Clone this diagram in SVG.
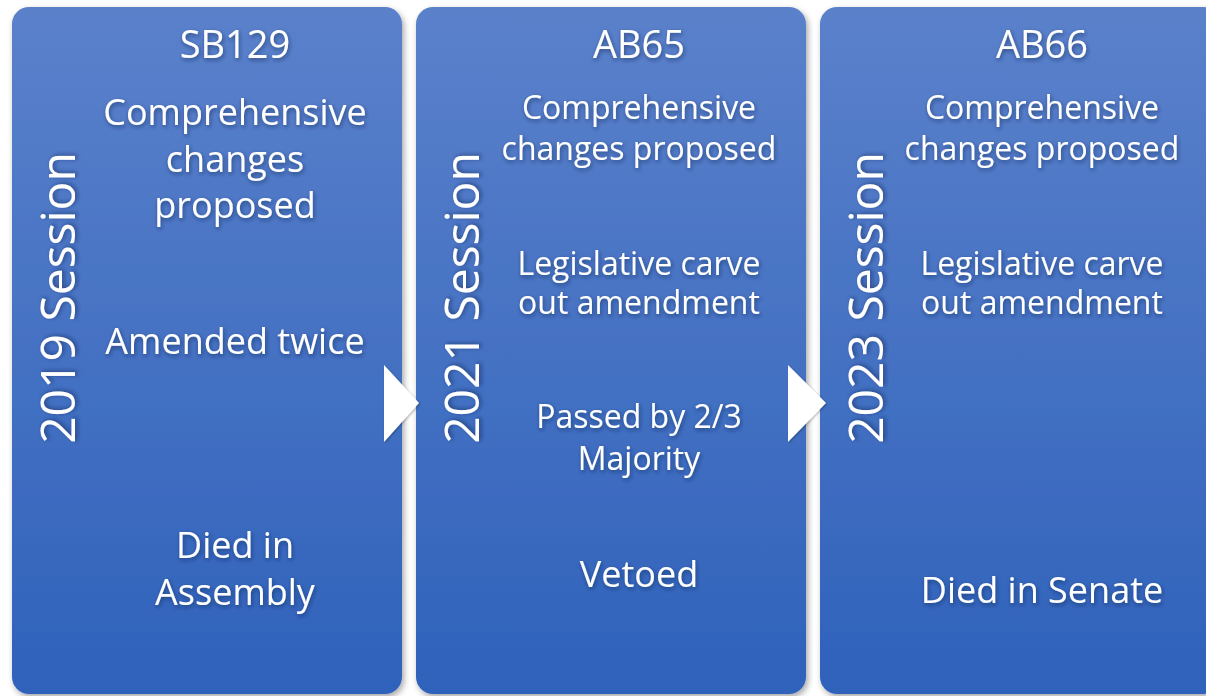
<svg xmlns="http://www.w3.org/2000/svg" width="1206" height="696" viewBox="0 0 1206 696">
  <defs>
    <linearGradient id="panelGrad" x1="0" y1="0" x2="0" y2="1">
      <stop offset="0" stop-color="#5b81cb"/>
      <stop offset="1" stop-color="#2f62bb"/>
    </linearGradient>
    <filter id="boxShadow" x="-5%" y="-5%" width="110%" height="110%">
      <feDropShadow dx="2" dy="3" stdDeviation="3" flood-color="#000" flood-opacity="0.35"/>
    </filter>
    <filter id="textShadow" x="-10%" y="-20%" width="120%" height="150%">
      <feDropShadow dx="1" dy="2" stdDeviation="2" flood-color="#0a1f4a" flood-opacity="0.55"/>
    </filter>
    <filter id="arrowShadow" x="-30%" y="-30%" width="160%" height="160%">
      <feDropShadow dx="1" dy="1" stdDeviation="1" flood-color="#000" flood-opacity="0.3"/>
    </filter>
  </defs>
  <style>
    .panel { fill: url(#panelGrad); filter: url(#boxShadow); }
    text { font-family: "Open Sans", "Noto Sans", "DejaVu Sans", sans-serif; fill: #ffffff; text-anchor: middle; filter: url(#textShadow); }
    .title { font-size: 38px; }
    .big { font-size: 36px; }
    .med { font-size: 32px; }
    .session { font-size: 48px; }
    .arrow { fill: #ffffff; filter: url(#arrowShadow); }
  </style>
  <rect width="1206" height="696" fill="#ffffff"/>

  <g id="panel-2019">
    <rect class="panel" x="12" y="7" width="390" height="687" rx="17" ry="17"/>
    <text class="session" transform="translate(75,298) rotate(-90)">2019 Session</text>
    <text class="title" x="235" y="58">SB129</text>
    <text class="big" x="235" y="125">Comprehensive</text>
    <text class="big" x="235" y="172">changes</text>
    <text class="big" x="235" y="218">proposed</text>
    <text class="big" x="235" y="354">Amended twice</text>
    <text class="big" x="235" y="558">Died in</text>
    <text class="big" x="235" y="605">Assembly</text>
  </g>

  <g id="panel-2021">
    <rect class="panel" x="416" y="7" width="390" height="687" rx="17" ry="17"/>
    <text class="session" transform="translate(479,298) rotate(-90)">2021 Session</text>
    <text class="title" x="639" y="58">AB65</text>
    <text class="med" x="639" y="119">Comprehensive</text>
    <text class="med" x="639" y="160">changes proposed</text>
    <text class="med" x="639" y="275">Legislative carve</text>
    <text class="med" x="639" y="314">out amendment</text>
    <text class="med" x="639" y="428">Passed by 2/3</text>
    <text class="med" x="639" y="470">Majority</text>
    <text class="big" x="639" y="587">Vetoed</text>
  </g>

  <g id="panel-2023">
    <rect class="panel" x="820" y="7" width="400" height="687" rx="17" ry="17"/>
    <text class="session" transform="translate(883,298) rotate(-90)">2023 Session</text>
    <text class="title" x="1042" y="58">AB66</text>
    <text class="med" x="1042" y="119">Comprehensive</text>
    <text class="med" x="1042" y="160">changes proposed</text>
    <text class="med" x="1042" y="275">Legislative carve</text>
    <text class="med" x="1042" y="314">out amendment</text>
    <text class="big" x="1042" y="603">Died in Senate</text>
  </g>

  <g id="connectors">
    <polygon class="arrow" points="384,365 419,403 384,442"/>
    <polygon class="arrow" points="788,365 826,403 788,442"/>
  </g>
</svg>
